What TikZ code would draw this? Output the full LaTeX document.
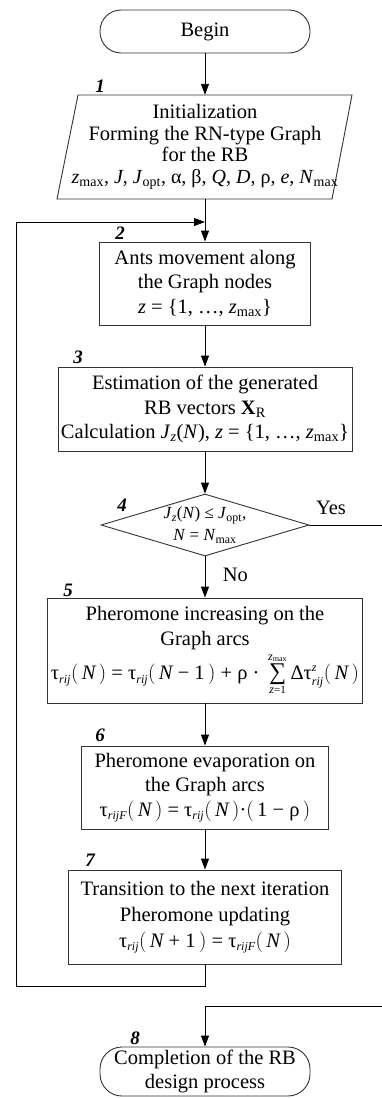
\documentclass[tikz,border=0pt]{standalone}
\usepackage{fontspec}
\usepackage{graphicx}
\setmainfont{Liberation Serif}
\usetikzlibrary{arrows.meta,shapes.geometric}
\newcommand\sx[1]{\hbox{\fontsize{12}{12}\selectfont\itshape #1}}
\newcommand\hb[1]{\hbox{#1}}
\newcommand\iN{\hbox{\itshape N}}
\newcommand\lpar{\bigl(\,}
\newcommand\rpar{\,\bigr)}
\begin{document}
\begin{tikzpicture}[x=1pt,y=-1pt,
  every node/.style={font=\fontsize{20.5}{23}\selectfont},
  boxs/.style={draw=black!80,line width=0.9pt,rectangle,inner sep=0pt,align=center},
  term/.style={boxs,rounded corners=21pt},
  numl/.style={font=\fontsize{19}{19}\selectfont\bfseries\itshape},
  conn/.style={line width=0.9pt,-{Triangle[length=11pt,width=8pt]}},
  plain/.style={line width=0.9pt}]
\useasboundingbox (0,0) rectangle (382,1098);

\node[term,minimum width=210pt,minimum height=43pt] (begin) at (205,31.5) {Begin};

\draw[draw=black!80,line width=0.9pt] (78,95) -- (352,95) -- (332,199) -- (57,199) -- cycle;
\node[inner sep=0pt,minimum width=254pt,minimum height=104pt,align=center,
  font=\fontsize{20.5}{21.5}\selectfont] (n1) at (205,147)
  {Initialization\\Forming the RN-type Graph\\for the RB\\
   {\fontsize{20}{21.5}\selectfont\textit{z}\textsubscript{max}, \textit{J}, \textit{J}\textsubscript{opt}, α, β, \textit{Q}, \textit{D}, ρ, \textit{e}, \textit{N}\textsubscript{max}}};

\node[boxs,minimum width=211pt,minimum height=83pt,font=\fontsize{20.5}{24.5}\selectfont] (b2) at (205,283.5)
  {Ants movement along\\the Graph nodes\\\textit{z} = \{1, …, \textit{z}\textsubscript{max}\}};

\node[boxs,minimum width=294pt,minimum height=84pt,font=\fontsize{20.5}{24.5}\selectfont] (b3) at (205,409)
  {Estimation of the generated\\RB vectors \textbf{X}\textsubscript{R}\\
   Calculation \textit{J}\textsubscript{\itshape z}(\textit{N}), \textit{z} = \{1, …, \textit{z}\textsubscript{max}\}};

\node[diamond,draw=black!80,line width=0.9pt,minimum width=208pt,minimum height=62pt,inner sep=0pt] (d4) at (205,525) {};
\node[align=center,inner sep=0pt,font=\fontsize{17}{22}\selectfont] (t4) at (d4.center)
  {\textit{J}\textsubscript{\itshape z}(\textit{N}) ≤ \textit{J}\textsubscript{opt},\\\textit{N} = \textit{N}\textsubscript{max}};

\node[boxs,minimum width=315pt,minimum height=105pt,font=\fontsize{20.5}{25}\selectfont] (b5) at (205,650.5)
  {Pheromone increasing on the\\Graph arcs\\[3pt]
   $\hb{τ}_{\sx{rij}}\lpar\iN\rpar\hb{ = }\hb{τ}_{\sx{rij}}\lpar\iN\hb{ − 1}\rpar\hb{ + ρ · }
   \mathop{\hbox{\fontsize{24}{24}\selectfont ∑}}\limits_{\raisebox{-2pt}{\sx{z}\hbox{\fontsize{11}{11}\selectfont =1}}}^{\raisebox{2pt}{\sx{z\textsubscript{\upshape max}}}}
   \hb{Δτ}^{\sx{z}}_{\sx{rij}}\lpar\iN\rpar$};

\node[boxs,minimum width=247pt,minimum height=83pt,font=\fontsize{20.5}{24.5}\selectfont] (b6) at (205,787.5)
  {Pheromone evaporation on\\the Graph arcs\\
   $\hb{τ}_{\sx{rijF}}\lpar\iN\rpar\hb{ = }\hb{τ}_{\sx{rij}}\lpar\iN\rpar\hb{·}\lpar\hb{1 − ρ}\rpar$};

\node[boxs,minimum width=273pt,minimum height=94pt,font=\fontsize{20.5}{26}\selectfont] (b7) at (205,917)
  {Transition to the next iteration\\Pheromone updating\\
   $\hb{τ}_{\sx{rij}}\lpar\iN\hb{ + 1}\rpar\hb{ = }\hb{τ}_{\sx{rijF}}\lpar\iN\rpar$};

\node[term,minimum width=210pt,minimum height=49pt,rounded corners=22pt,font=\fontsize{20.5}{24}\selectfont] (b8) at (205,1071.5)
  {Completion of the RB\\design process};

\node[numl] (l1) at (100,86) {1};
\node[numl] (l2) at (120,233) {2};
\node[numl] (l3) at (78,357) {3};
\node[numl] (l4) at (122,505) {4};
\node[numl] (l5) at (68,590) {5};
\node[numl] (l6) at (100,735) {6};
\node[numl] (l7) at (90,860) {7};
\node[numl] (l8) at (135,1038) {8};

\coordinate (join) at (205,222);
\coordinate (loopL) at (16,986);
\coordinate (yesR) at (382,525);
\coordinate (retR) at (382,1006);

\draw[conn] (begin) -- (n1);
\draw[conn] (n1) -- (b2);
\draw[conn] (b2) -- (b3);
\draw[conn] (b3) -- (d4);
\draw[conn] (d4) -- node[right=14pt,pos=0.45] (no) {No} (b5);
\draw[conn] (b5) -- (b6);
\draw[conn] (b6) -- (b7);
\draw[plain] (b7.south) |- (loopL);
\draw[conn] (loopL) |- (join);
\draw[plain] (d4.east) -- (yesR);
\node (yes) at (331,508) {Yes};
\draw[conn] (retR) -| (b8.north);
\end{tikzpicture}
\end{document}
